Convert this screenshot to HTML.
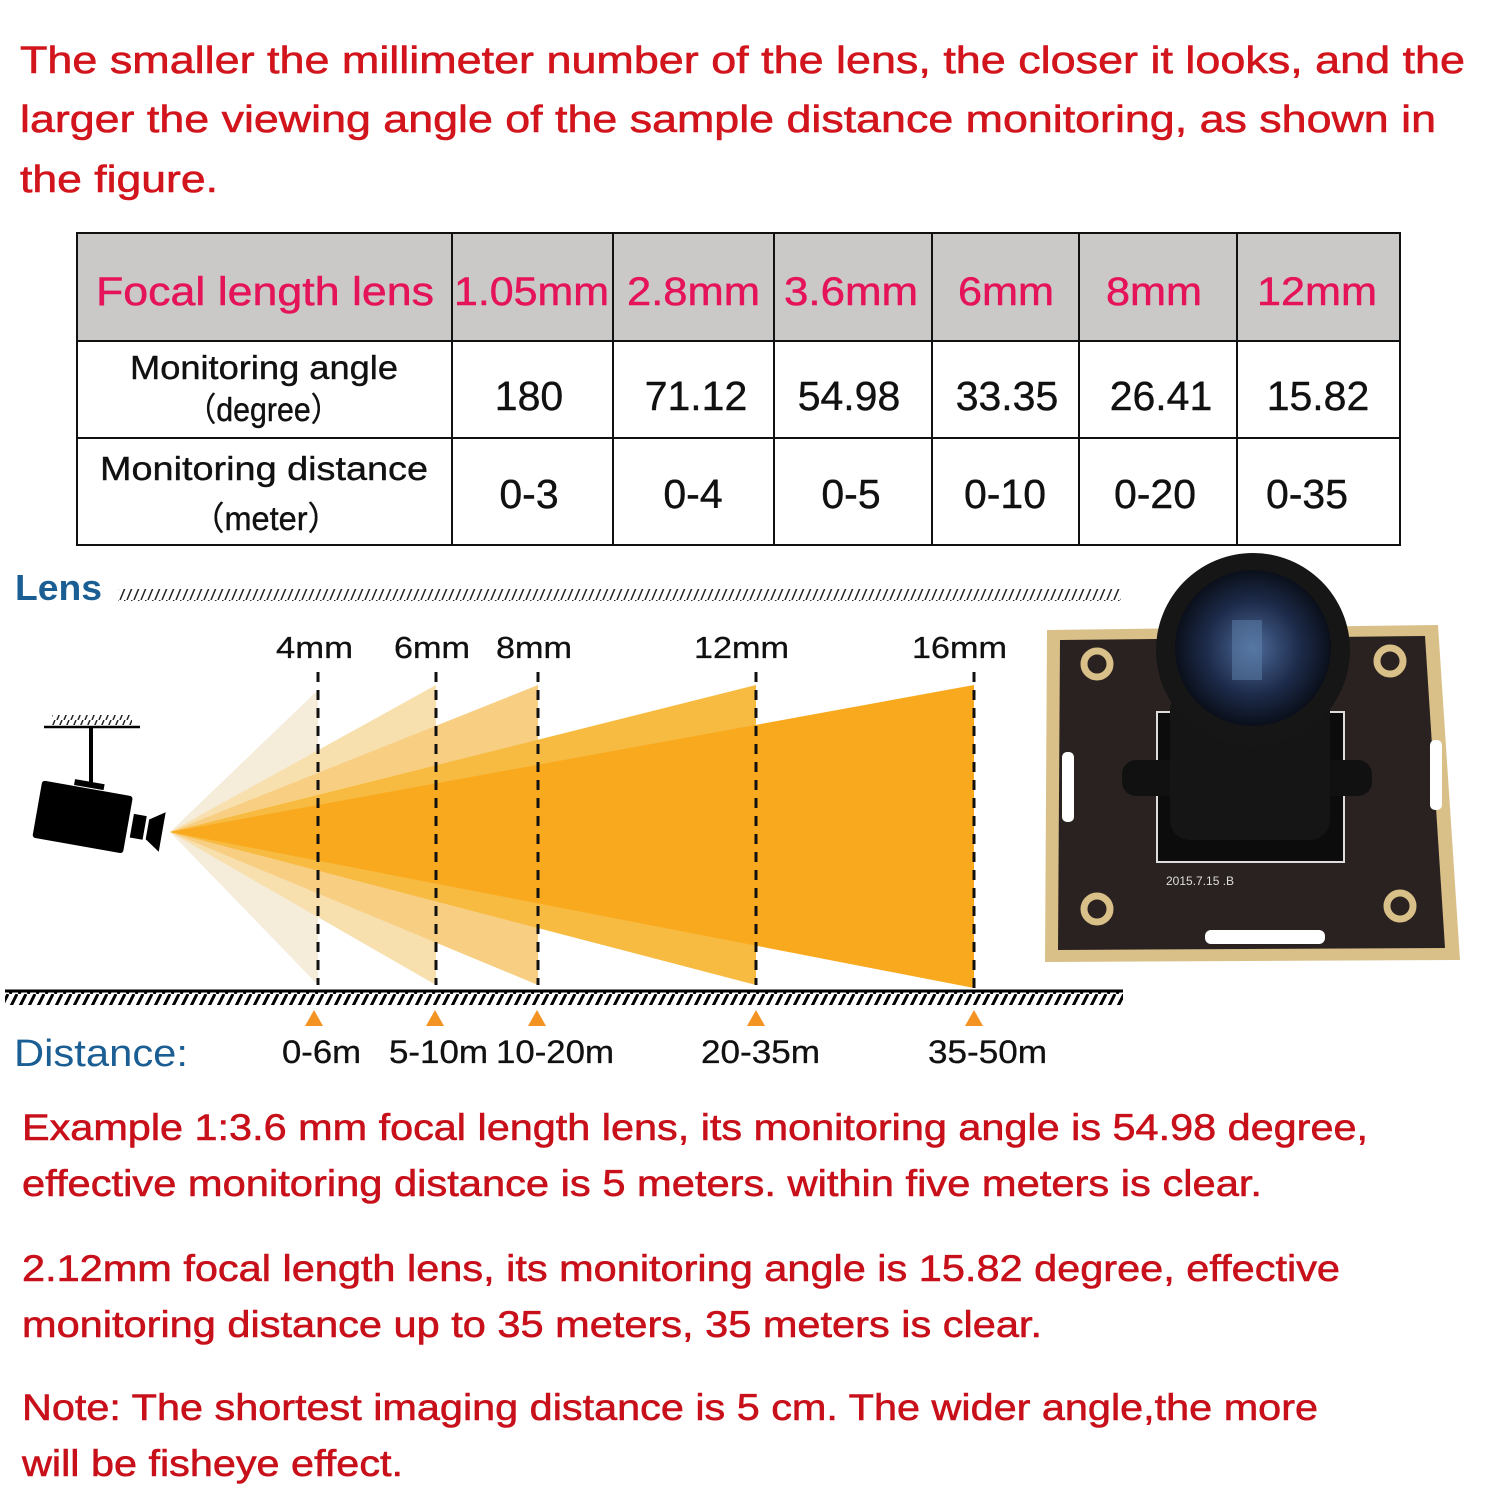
<!DOCTYPE html>
<html><head><meta charset="utf-8"><style>html,body{margin:0;padding:0;background:#fff}svg{display:block}</style></head>
<body>
<svg width="1500" height="1500" viewBox="0 0 1500 1500" xmlns="http://www.w3.org/2000/svg" font-family="Liberation Sans, Arial, sans-serif">
<defs>
<pattern id="hatch" width="9" height="14" patternUnits="userSpaceOnUse"><line x1="8" y1="0" x2="1" y2="14" stroke="#000" stroke-width="3"/></pattern>
<pattern id="hatch2" width="7" height="12" patternUnits="userSpaceOnUse"><line x1="6" y1="0" x2="1" y2="12" stroke="#222" stroke-width="1.5"/></pattern>
<radialGradient id="lensg" cx="0.5" cy="0.5" r="0.5"><stop offset="0" stop-color="#4d6a9a"/><stop offset="0.6" stop-color="#1d2b4a"/><stop offset="1" stop-color="#0a0f1a"/></radialGradient>
</defs>
<g fill="#d2141c" font-size="38" stroke="#d2141c" stroke-width="0.6">
<text x="20" y="73" textLength="1445" lengthAdjust="spacingAndGlyphs">The smaller the millimeter number of the lens, the closer it looks, and the</text>
<text x="20" y="132" textLength="1416" lengthAdjust="spacingAndGlyphs">larger the viewing angle of the sample distance monitoring, as shown in</text>
<text x="20" y="192" textLength="198" lengthAdjust="spacingAndGlyphs">the figure.</text>
</g>
<!-- table -->
<rect x="77" y="233" width="1323" height="108" fill="#cbc8c8"/>
<g stroke="#111" stroke-width="2" fill="none">
<rect x="77" y="233" width="1323" height="312"/>
<line x1="77" y1="341" x2="1400" y2="341"/><line x1="77" y1="438" x2="1400" y2="438"/>
<line x1="452" y1="233" x2="452" y2="545"/><line x1="613" y1="233" x2="613" y2="545"/>
<line x1="774" y1="233" x2="774" y2="545"/><line x1="932" y1="233" x2="932" y2="545"/>
<line x1="1079" y1="233" x2="1079" y2="545"/><line x1="1237" y1="233" x2="1237" y2="545"/>
</g>
<g fill="#e5135a" font-size="40" stroke="#e5135a" stroke-width="0.5">
<text x="96" y="305" textLength="338" lengthAdjust="spacingAndGlyphs">Focal length lens</text>
<text x="454" y="305" textLength="155" lengthAdjust="spacingAndGlyphs">1.05mm</text>
<text x="627" y="305" textLength="133" lengthAdjust="spacingAndGlyphs">2.8mm</text>
<text x="784" y="305" textLength="134" lengthAdjust="spacingAndGlyphs">3.6mm</text>
<text x="958" y="305" textLength="96" lengthAdjust="spacingAndGlyphs">6mm</text>
<text x="1106" y="305" textLength="96" lengthAdjust="spacingAndGlyphs">8mm</text>
<text x="1257" y="305" textLength="120" lengthAdjust="spacingAndGlyphs">12mm</text>
</g>
<g fill="#111" font-size="33" stroke="#111" stroke-width="0.4">
<text x="130" y="379" textLength="268" lengthAdjust="spacingAndGlyphs">Monitoring angle</text>
<text x="186" y="421" textLength="155" lengthAdjust="spacingAndGlyphs">（degree）</text>
<text x="100" y="480" textLength="328" lengthAdjust="spacingAndGlyphs">Monitoring distance</text>
<text x="192" y="530" textLength="148" lengthAdjust="spacingAndGlyphs">（meter）</text>
</g>
<g fill="#111" font-size="41" text-anchor="middle" stroke="#111" stroke-width="0.4">
<text x="529" y="410">180</text><text x="696" y="410">71.12</text><text x="849" y="410">54.98</text>
<text x="1007" y="410">33.35</text><text x="1161" y="410">26.41</text><text x="1318" y="410">15.82</text>
<text x="529" y="508">0-3</text><text x="693" y="508">0-4</text><text x="851" y="508">0-5</text>
<text x="1005" y="508">0-10</text><text x="1155" y="508">0-20</text><text x="1307" y="508">0-35</text>
</g>
<!-- lens row -->
<text x="15" y="600" fill="#1a5e94" font-size="36" font-weight="bold" textLength="87" lengthAdjust="spacingAndGlyphs">Lens</text>
<rect x="118" y="589" width="1003" height="12" fill="url(#hatch2)"/>
<g font-size="31" fill="#111" stroke="#111" stroke-width="0.3">
<text x="276" y="658" textLength="77" lengthAdjust="spacingAndGlyphs">4mm</text>
<text x="394" y="658" textLength="76" lengthAdjust="spacingAndGlyphs">6mm</text>
<text x="496" y="658" textLength="76" lengthAdjust="spacingAndGlyphs">8mm</text>
<text x="694" y="658" textLength="95" lengthAdjust="spacingAndGlyphs">12mm</text>
<text x="912" y="658" textLength="95" lengthAdjust="spacingAndGlyphs">16mm</text>
</g>
<!-- cones -->
<polygon points="170,832 318,690 318,985" fill="#f5ecda"/>
<polygon points="170,832 436,685 436,985" fill="#f8dfae"/>
<polygon points="170,832 538,685 538,985" fill="#f8cf82"/>
<polygon points="170,832 756,685 756,985" fill="#f8bb42"/>
<polygon points="170,832 974,685 974,988" fill="#f9a91e"/>
<g stroke="#111" stroke-width="3" stroke-dasharray="10,8">
<line x1="318" y1="672" x2="318" y2="985"/><line x1="436" y1="672" x2="436" y2="985"/>
<line x1="538" y1="672" x2="538" y2="985"/><line x1="756" y1="672" x2="756" y2="985"/>
<line x1="974" y1="672" x2="974" y2="988"/>
</g>
<!-- camera -->
<rect x="52" y="715" width="80" height="10" fill="url(#hatch2)"/>
<line x1="44" y1="727" x2="140" y2="727" stroke="#000" stroke-width="2.5"/>
<line x1="91" y1="727" x2="91" y2="784" stroke="#000" stroke-width="4"/>
<g transform="rotate(10 95 810)">
<rect x="70" y="783" width="30" height="6" fill="#000"/>
<rect x="38" y="790" width="92" height="58" rx="3" fill="#000"/>
<rect x="134" y="807" width="13" height="24" fill="#000"/>
<polygon points="150,810 165,800 165,840 150,830" fill="#000"/>
</g>
<!-- ground -->
<rect x="5" y="990" width="1118" height="15" fill="url(#hatch)"/>
<line x1="5" y1="991" x2="1123" y2="991" stroke="#000" stroke-width="3"/>
<g fill="#f39322">
<polygon points="305,1026 314,1010 323,1026"/><polygon points="426,1026 435,1010 444,1026"/>
<polygon points="528,1026 537,1010 546,1026"/><polygon points="747,1026 756,1010 765,1026"/>
<polygon points="965,1026 974,1010 983,1026"/>
</g>
<text x="14" y="1066" fill="#1a5e94" font-size="38" textLength="174" lengthAdjust="spacingAndGlyphs">Distance:</text>
<g font-size="32" fill="#111" stroke="#111" stroke-width="0.3">
<text x="282" y="1063" textLength="79" lengthAdjust="spacingAndGlyphs">0-6m</text>
<text x="389" y="1063" textLength="99" lengthAdjust="spacingAndGlyphs">5-10m</text>
<text x="496" y="1063" textLength="118" lengthAdjust="spacingAndGlyphs">10-20m</text>
<text x="701" y="1063" textLength="119" lengthAdjust="spacingAndGlyphs">20-35m</text>
<text x="928" y="1063" textLength="119" lengthAdjust="spacingAndGlyphs">35-50m</text>
</g>
<!-- board -->
<polygon points="1047,630 1438,625 1460,960 1045,962" fill="#d9c089"/>
<polygon points="1060,640 1425,636 1445,948 1058,950" fill="#2a2220"/>
<g fill="#fff">
<rect x="1062" y="752" width="12" height="70" rx="5"/><rect x="1430" y="740" width="12" height="70" rx="5"/>
<rect x="1205" y="930" width="120" height="14" rx="6"/>
</g>
<g fill="none" stroke="#d9c089" stroke-width="7">
<circle cx="1097" cy="664" r="13"/><circle cx="1390" cy="661" r="13"/>
<circle cx="1097" cy="909" r="13"/><circle cx="1400" cy="906" r="13"/>
</g>
<rect x="1157" y="712" width="187" height="150" fill="#0c0c0c" stroke="#ddd" stroke-width="2"/>
<rect x="1122" y="760" width="250" height="36" rx="14" fill="#111"/>
<rect x="1170" y="690" width="160" height="150" rx="20" fill="#151515"/>
<circle cx="1253" cy="650" r="97" fill="#161616"/>
<circle cx="1253" cy="648" r="78" fill="url(#lensg)"/>
<rect x="1232" y="620" width="30" height="60" fill="#5f84ad" opacity="0.5"/>
<text x="1166" y="885" fill="#ddd" font-size="12">2015.7.15 .B</text>
<!-- bottom text -->
<g fill="#c8101a" font-size="37" stroke="#c8101a" stroke-width="0.6">
<text x="22" y="1140" textLength="1346" lengthAdjust="spacingAndGlyphs">Example 1:3.6 mm focal length lens, its monitoring angle is 54.98 degree,</text>
<text x="22" y="1196" textLength="1240" lengthAdjust="spacingAndGlyphs">effective monitoring distance is 5 meters. within five meters is clear.</text>
<text x="22" y="1281" textLength="1318" lengthAdjust="spacingAndGlyphs">2.12mm focal length lens, its monitoring angle is 15.82 degree, effective</text>
<text x="22" y="1337" textLength="1020" lengthAdjust="spacingAndGlyphs">monitoring distance up to 35 meters, 35 meters is clear.</text>
<text x="22" y="1420" textLength="1296" lengthAdjust="spacingAndGlyphs">Note: The shortest imaging distance is 5 cm. The wider angle,the more</text>
<text x="22" y="1476" textLength="381" lengthAdjust="spacingAndGlyphs">will be fisheye effect.</text>
</g>
</svg>
</body></html>
